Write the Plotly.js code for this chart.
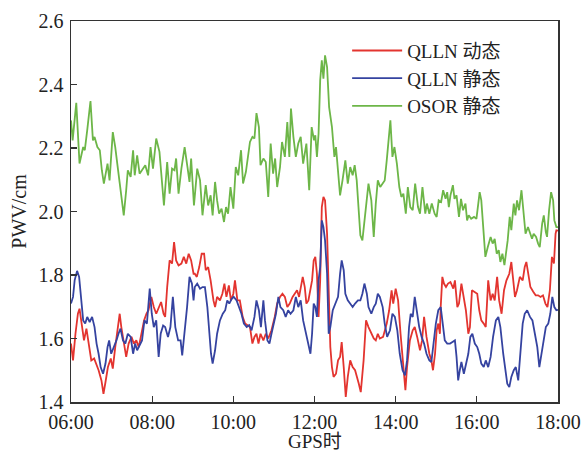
<!DOCTYPE html>
<html>
<head>
<meta charset="utf-8">
<script src="https://cdn.plot.ly/plotly-3.0.1.min.js"></script>
<style>html,body{margin:0;padding:0;background:#fff;}#chart{width:582px;height:454px;}</style>
</head>
<body>
<div id="chart"></div>
<script>
// time in hours (GPS time), values in cm
const seriesNames = ["QLLN 动态", "QLLN 静态", "OSOR 静态"];
const xTitle = "GPS时";
const yTitle = "PWV/cm";
const xTickVals = [6, 8, 10, 12, 14, 16, 18];
const xTickText = ["06:00", "08:00", "10:00", "12:00", "14:00", "16:00", "18:00"];

const redT = [
  6.00,6.05,6.11,6.17,6.21,6.27,6.32,6.38,6.43,6.50,6.57,6.62,6.68,6.75,6.80,6.85,6.91,6.98,7.03,7.09,
  7.14,7.20,7.24,7.31,7.36,7.42,7.49,7.55,7.61,7.67,7.73,7.80,7.86,7.91,7.98,8.04,8.10,8.16,8.22,8.28,
  8.32,8.37,8.43,8.49,8.54,8.59,8.65,8.72,8.78,8.84,8.90,8.96,9.02,
  9.05,9.10,9.16,9.22,9.28,9.32,9.38,9.44,9.51,9.55,9.60,9.67,9.73,9.78,9.83,9.89,9.94,10.00,10.04,10.10,
  10.16,10.23,10.29,10.34,10.41,10.47,10.52,10.57,10.62,10.67,10.74,10.80,10.86,10.94,11.02,11.08,11.15,11.21,11.27,11.33,
  11.39,11.46,11.52,11.57,11.62,11.66,11.71,11.76,11.80,11.85,11.90,
  11.94,11.98,12.02,12.06,12.10,12.14,12.18,12.22,12.26,12.31,12.35,12.39,12.43,12.47,12.53,12.58,12.63,12.67,12.72,12.77,
  12.82,12.88,12.94,13.00,13.09,13.14,13.21,13.27,13.33,13.40,13.46,13.51,13.56,
  13.61,13.69,13.78,13.84,13.90,13.94,14.00,14.06,14.12,14.19,14.24,14.28,14.35,14.42,14.47,14.53,14.60,14.65,14.70,14.76,
  14.83,14.88,14.92,14.97,15.01,15.05,15.09,15.11,15.15,15.19,15.24,15.29,15.35,15.42,15.46,15.52,15.56,15.62,15.68,15.73,
  15.79,15.83,15.88,15.95,16.01,16.06,16.11,16.17,16.22,16.28,16.34,16.39,16.44,16.50,16.55,16.61,16.67,16.73,16.80,16.85,
  16.89,16.94,16.99,17.06,17.13,17.18,17.22,17.26,17.32,17.39,17.45,17.51,17.57,17.63,17.69,17.74,17.80,17.85,17.90,17.94,
  17.96,18.00
];
const redV = [
  1.584,1.531,1.615,1.678,1.694,1.636,1.594,1.631,1.584,1.531,1.537,1.521,1.500,1.468,1.426,1.463,1.510,1.537,1.505,1.573,
  1.626,1.678,1.636,1.584,1.542,1.584,1.605,1.584,1.594,1.573,1.615,1.657,1.678,1.689,1.731,1.699,1.678,1.699,1.715,1.678,
  1.668,1.762,1.846,1.836,1.904,1.846,1.830,1.836,1.857,1.836,1.867,1.846,1.804,
  1.804,1.794,1.825,1.867,1.867,1.815,1.825,1.783,1.720,1.699,1.731,1.720,1.741,1.773,1.731,1.767,1.720,1.741,1.783,1.720,
  1.720,1.668,1.647,1.642,1.636,1.584,1.605,1.615,1.584,1.615,1.594,1.615,1.600,1.626,1.668,1.710,1.731,1.741,1.731,1.699,
  1.710,1.731,1.741,1.752,1.731,1.762,1.794,1.762,1.710,1.720,1.762,
  1.783,1.846,1.857,1.804,1.668,1.783,2.014,2.046,2.035,1.930,1.731,1.573,1.510,1.479,1.489,1.531,1.542,1.589,1.510,1.416,
  1.479,1.531,1.510,1.500,1.458,1.431,1.531,1.657,1.636,1.615,1.600,1.594,1.615,
  1.600,1.605,1.647,1.689,1.752,1.710,1.757,1.720,1.615,1.510,1.437,1.510,1.594,1.626,1.636,1.605,1.563,1.594,1.668,1.605,
  1.552,1.531,1.500,1.552,1.626,1.647,1.615,1.699,1.794,1.773,1.762,1.773,1.778,1.757,1.783,1.699,1.710,1.773,1.731,1.689,
  1.615,1.636,1.752,1.747,1.741,1.689,1.657,1.647,1.636,1.783,1.720,1.741,1.720,1.794,1.720,1.678,1.752,1.783,1.804,1.841,
  1.794,1.731,1.752,1.794,1.783,1.825,1.841,1.804,1.762,1.747,1.736,1.736,1.731,1.736,1.710,1.699,1.752,1.857,1.836,1.930,
  1.941,1.940
];

const blueT = [
  6.00,6.05,6.09,6.15,6.20,6.24,6.30,6.35,6.40,6.46,6.52,6.58,6.63,6.68,6.73,6.79,6.85,6.90,6.94,6.99,
  7.06,7.12,7.17,7.22,7.28,7.34,7.40,7.47,7.53,7.58,7.63,7.69,7.75,7.81,7.87,7.94,7.99,8.04,8.10,8.16,
  8.21,8.27,8.32,8.39,8.45,8.51,8.57,8.64,8.70,8.74,8.80,8.86,8.92,8.98,9.02,
  9.05,9.11,9.18,9.24,9.30,9.36,9.41,9.45,9.49,9.55,9.60,9.67,9.74,9.80,9.85,9.90,9.96,10.01,10.08,10.15,
  10.20,10.26,10.33,10.39,10.45,10.52,10.57,10.63,10.68,10.74,10.78,10.84,10.89,10.94,11.00,11.05,11.11,11.16,11.23,11.29,
  11.35,11.41,11.48,11.54,11.60,11.66,11.72,11.79,11.85,11.90,
  11.94,11.98,12.02,12.06,12.10,12.14,12.18,12.22,12.26,12.31,12.35,12.39,12.45,12.51,12.58,12.63,12.67,12.72,12.76,12.82,
  12.88,12.94,13.00,13.07,13.13,13.18,13.23,13.29,13.33,13.40,13.46,13.51,13.56,
  13.61,13.68,13.73,13.79,13.86,13.92,13.98,14.04,14.10,14.17,14.23,14.28,14.33,14.37,14.42,14.47,14.51,14.58,14.64,14.70,
  14.76,14.83,14.88,14.92,14.99,15.05,15.11,15.15,15.21,15.27,15.34,15.40,15.46,15.50,15.54,15.58,15.62,15.68,15.73,15.79,
  15.84,15.89,15.95,16.01,16.06,16.11,16.17,16.22,16.28,16.34,16.40,16.47,16.53,16.58,16.65,16.71,16.75,16.80,16.85,16.91,
  16.96,17.02,17.08,17.13,17.18,17.24,17.31,17.37,17.43,17.49,17.54,17.59,17.65,17.70,17.76,17.81,17.86,17.91,17.96,18.00
];
const blueV = [
  1.710,1.731,1.783,1.813,1.794,1.731,1.657,1.647,1.668,1.652,1.668,1.636,1.584,1.552,1.510,1.489,1.521,1.573,1.594,1.552,
  1.573,1.594,1.615,1.631,1.594,1.584,1.615,1.605,1.552,1.584,1.563,1.579,1.594,1.657,1.647,1.757,1.678,1.636,1.657,1.542,
  1.615,1.641,1.636,1.605,1.636,1.731,1.636,1.594,1.594,1.547,1.615,1.699,1.794,1.773,1.720,
  1.762,1.773,1.757,1.762,1.762,1.699,1.615,1.552,1.521,1.563,1.615,1.657,1.678,1.689,1.720,1.710,1.725,1.731,1.720,1.699,
  1.678,1.647,1.636,1.642,1.626,1.668,1.720,1.689,1.636,1.720,1.657,1.594,1.584,1.615,1.647,1.678,1.731,1.699,1.689,1.668,
  1.689,1.678,1.689,1.731,1.699,1.720,1.657,1.615,1.584,1.552,
  1.615,1.710,1.699,1.668,1.783,1.825,1.972,1.951,1.909,1.804,1.615,1.636,1.689,1.710,1.731,1.804,1.846,1.815,1.741,1.720,
  1.710,1.699,1.710,1.720,1.720,1.741,1.773,1.741,1.699,1.678,1.699,1.710,1.741,
  1.731,1.699,1.647,1.605,1.626,1.678,1.668,1.626,1.552,1.500,1.484,1.531,1.636,1.678,1.668,1.731,1.699,1.636,1.605,1.584,
  1.552,1.531,1.526,1.573,1.647,1.689,1.699,1.657,1.594,1.584,1.584,1.589,1.594,1.542,1.468,1.500,1.526,1.489,1.515,1.552,
  1.605,1.615,1.584,1.573,1.552,1.521,1.510,1.531,1.510,1.542,1.605,1.657,1.668,1.636,1.552,1.489,1.458,1.447,1.479,1.500,
  1.510,1.468,1.573,1.647,1.678,1.689,1.668,1.657,1.615,1.573,1.510,1.552,1.594,1.636,1.647,1.678,1.731,1.699,1.689,1.690
];

const greenT = [
  6.00,6.04,6.13,6.21,6.30,6.34,6.40,6.48,6.54,6.58,6.65,6.71,6.76,6.81,6.90,6.95,7.03,7.09,7.16,7.22,
  7.30,7.36,7.40,7.47,7.53,7.57,7.63,7.69,7.77,7.83,7.90,7.96,8.02,8.10,8.18,8.24,8.29,8.37,8.43,8.49,
  8.55,8.59,8.65,8.72,8.80,8.87,8.92,8.96,9.03,
  9.11,9.18,9.24,9.32,9.38,9.44,9.49,9.55,9.60,9.65,9.71,9.77,9.82,9.87,9.93,10.00,10.06,10.12,10.19,10.24,
  10.31,10.37,10.41,10.47,10.52,10.57,10.63,10.67,10.74,10.80,10.86,10.92,10.98,11.03,11.08,11.15,11.20,11.27,11.33,11.38,
  11.42,11.48,11.54,11.60,11.66,11.72,11.80,11.87,11.93,11.99,
  12.02,12.06,12.10,12.14,12.18,12.22,12.26,12.31,12.36,12.43,12.49,12.53,12.58,12.63,12.69,12.76,12.82,12.88,12.94,12.99,
  13.04,13.09,13.13,13.18,13.25,13.33,13.40,13.46,13.51,13.56,13.62,13.68,13.73,13.78,13.84,13.87,13.92,13.97,14.03,14.09,
  14.14,14.19,14.25,14.30,14.36,14.42,14.48,14.55,14.60,14.66,14.73,14.77,14.83,14.89,14.96,
  15.01,15.06,15.12,15.17,15.23,15.27,15.31,15.35,15.41,15.45,15.50,15.56,15.61,15.66,15.72,15.76,15.80,15.86,15.93,15.99,
  16.07,16.11,16.16,16.21,16.27,16.34,16.39,16.44,16.49,16.54,16.58,16.63,16.68,16.73,16.76,16.81,16.85,16.91,16.95,16.99,
  17.04,17.10,17.16,17.20,17.26,17.32,17.36,17.40,17.46,17.51,17.55,17.61,17.65,17.70,17.73,17.78,17.83,17.88,17.91,17.96,
  18.00
];
const greenV = [
  2.287,2.224,2.342,2.151,2.203,2.193,2.256,2.348,2.224,2.235,2.203,2.193,2.130,2.088,2.151,2.098,2.250,2.203,2.130,2.067,
  1.988,2.067,2.130,2.109,2.193,2.114,2.177,2.119,2.135,2.146,2.114,2.203,2.135,2.230,2.188,2.098,2.019,2.156,2.056,2.135,
  2.130,2.167,2.056,2.135,2.203,2.140,2.093,2.167,2.019,
  2.135,2.098,1.988,2.083,2.019,2.051,1.988,2.093,2.035,1.993,2.009,1.967,2.014,1.993,2.077,2.009,2.140,2.114,2.193,2.088,
  2.125,2.182,2.219,2.235,2.230,2.310,2.266,2.146,2.167,2.156,2.046,2.214,2.119,2.167,2.077,2.140,2.219,2.172,2.282,2.172,
  2.324,2.235,2.172,2.214,2.235,2.151,2.214,2.067,2.266,2.224,
  2.240,2.172,2.245,2.413,2.476,2.418,2.492,2.455,2.329,2.266,2.172,2.203,2.119,2.051,2.098,2.161,2.088,2.140,2.114,2.146,
  2.098,1.993,1.925,1.909,2.004,2.088,2.035,1.920,2.025,2.098,2.077,2.088,2.098,2.161,2.256,2.287,2.172,2.203,2.151,2.077,
  2.046,2.056,1.993,2.077,2.014,2.004,2.088,2.014,1.993,2.077,1.993,2.025,1.993,2.025,1.993,
  1.983,2.035,2.030,2.067,2.040,2.061,2.014,2.051,2.083,2.040,2.051,1.983,2.040,2.004,2.025,1.972,1.988,1.977,1.983,1.977,
  2.061,2.035,1.941,1.857,1.888,1.920,1.899,1.914,1.867,1.878,1.841,1.867,1.831,1.878,1.909,1.983,1.941,2.025,1.988,2.035,
  2.004,2.067,1.983,1.930,1.951,1.925,1.914,1.930,1.920,1.899,1.888,1.962,1.988,1.935,1.920,2.004,2.061,2.035,1.972,1.951,
  1.951
];

const colors = ["#e3342f", "#3543a0", "#6db648"];
const FONT = "Liberation Serif, Times New Roman, DejaVu Serif, Noto Sans CJK SC, serif";

const traces = [
  {x: redT, y: redV, name: seriesNames[0]},
  {x: blueT, y: blueV, name: seriesNames[1]},
  {x: greenT, y: greenV, name: seriesNames[2]}
].map((t, i) => Object.assign(t, {
  type: "scatter", mode: "lines",
  line: {color: colors[i], width: 1.8}
}));

const axisCommon = {
  showline: true, mirror: true, linecolor: "#333", linewidth: 1.5,
  ticks: "inside", ticklen: 6, tickwidth: 1.2, tickcolor: "#333",
  showgrid: false, zeroline: false,
  tickfont: {family: FONT, size: 20, color: "#222"}
};

const layout = {
  width: 582, height: 454,
  margin: {l: 71, r: 24, t: 21, b: 52},
  paper_bgcolor: "#fff", plot_bgcolor: "#fff",
  showlegend: true,
  legend: {
    x: 0.567, y: 0.972, xanchor: "left", yanchor: "top",
    bgcolor: "rgba(0,0,0,0)", borderwidth: 0,
    font: {family: FONT, size: 19, color: "#222"},
    itemwidth: 50, tracegroupgap: 0
  },
  xaxis: Object.assign({}, axisCommon, {
    range: [6, 18], tickmode: "array", tickvals: xTickVals, ticktext: xTickText,
    ticklabelstandoff: 1
  }),
  yaxis: Object.assign({}, axisCommon, {
    range: [1.4, 2.6], dtick: 0.2, tick0: 1.4, tickformat: ".1f",
    ticklabelstandoff: 2,
    title: {text: yTitle, font: {family: FONT, size: 20, color: "#222"}, standoff: 6}
  }),
  annotations: [{
    text: xTitle, xref: "paper", yref: "paper", x: 0.5, y: -0.1346,
    xanchor: "center", yanchor: "bottom", showarrow: false, borderpad: 0,
    font: {family: FONT, size: 19, color: "#222"}
  }]
};

Plotly.newPlot("chart", traces, layout, {displayModeBar: false, staticPlot: true});
</script>
</body>
</html>
